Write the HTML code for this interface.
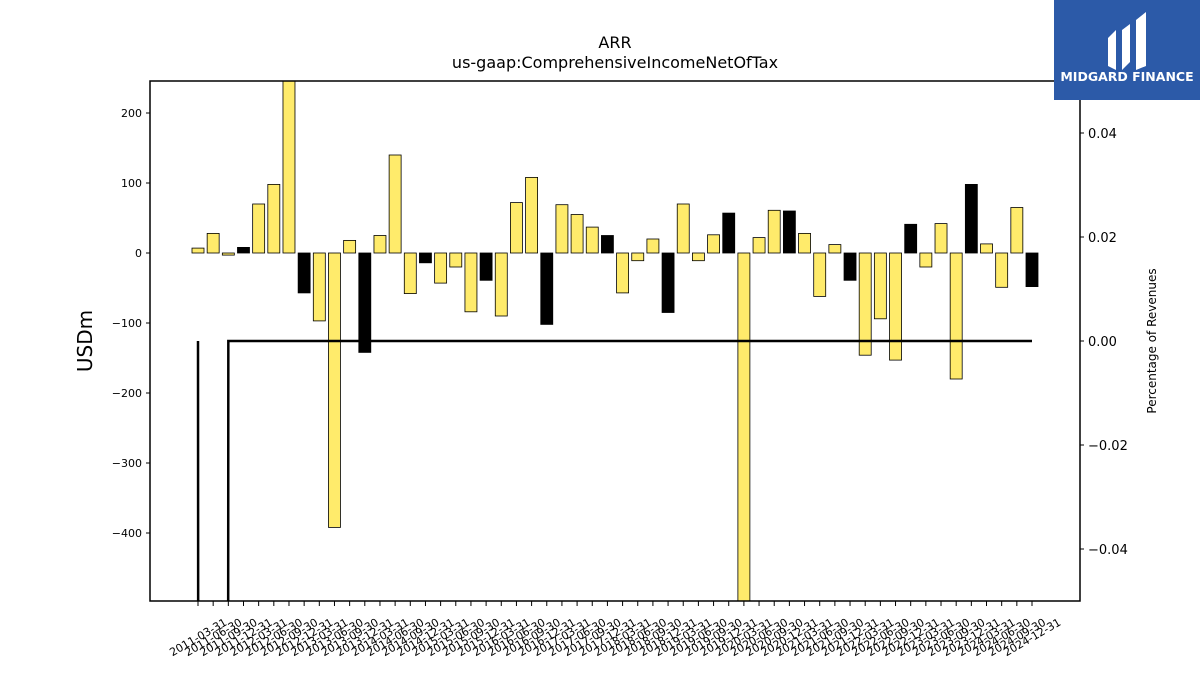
<!DOCTYPE html>
<html><head><meta charset="utf-8"><style>
body{margin:0;background:#fff;overflow:hidden;}
svg{display:block;font-family:"DejaVu Sans","Liberation Sans",sans-serif;}
</style></head><body>
<svg id="chart" width="1200" height="675" xmlns="http://www.w3.org/2000/svg">
<rect width="1200" height="675" fill="#fff"/>
<text x="615" y="48" text-anchor="middle" font-size="16">ARR</text>
<text x="615" y="68" text-anchor="middle" font-size="16">us-gaap:ComprehensiveIncomeNetOfTax</text>
<text transform="translate(92,341) rotate(-90)" text-anchor="middle" font-size="20">USDm</text>
<text transform="translate(1156,341) rotate(-90)" text-anchor="middle" font-size="12">Percentage of Revenues</text>
<g id="bars"></g>
<g id="line"></g>
<g id="axes"></g>
<g>
<rect x="1054" y="0" width="146" height="100" fill="#2c5aa8"/>
<path d="M1108 38 L1116 30 L1116 70 L1108 66 Z M1122 30 L1130 24 L1130 62 L1122 70 Z M1136 20 L1146 12 L1146 66 L1136 70 Z" fill="#fff"/>
<text x="1127" y="81" text-anchor="middle" font-size="12.5" font-weight="bold" fill="#fff">MIDGARD FINANCE</text>
</g>
</svg>
<script>
const labels=[];
for(let y=2011;y<=2024;y++){for(const q of ["03-31","06-30","09-30","12-31"])labels.push(y+"-"+q);}
const values=[7,28,-3,8,70,98,260,-57,-97,-392,18,-142,25,140,-58,-14,-43,-20,-84,-39,-90,72,108,-102,69,55,37,25,-57,-11,20,-85,70,-11,26,57,-520,22,61,60,28,-62,12,-39,-146,-94,-153,41,-20,42,-180,98,13,-49,65,-48];
const pct=[0,-5,0,0,0,0,0,0,0,0,0,0,0,0,0,0,0,0,0,0,0,0,0,0,0,0,0,0,0,0,0,0,0,0,0,0,0,0,0,0,0,0,0,0,0,0,0,0,0,0,0,0,0,0,0,0];
const leftTicks=[200,100,0,-100,-200,-300,-400];
const rightTicks=[0.04,0.02,0,-0.02,-0.04];
const L=150,R=1080,T=81,B=601;
const yL=v=>253-v*0.7;
const yR=v=>341-v*5200;
const xS=i=>198+i*(1032-198)/(labels.length-1);
const NS="http://www.w3.org/2000/svg";
function mk(t,a,p){const e=document.createElementNS(NS,t);for(const k in a)e.setAttribute(k,a[k]);p.appendChild(e);return e;}
const svg=document.getElementById('chart');
const defs=mk('defs',{},svg);
const cp=mk('clipPath',{id:'clip'},defs);mk('rect',{x:L,y:T,width:R-L,height:B-T},cp);
const bars=document.getElementById('bars');bars.setAttribute('clip-path','url(#clip)');
values.forEach((v,i)=>{
 const y0=yL(0),y1=yL(v);
 const r=mk('rect',{x:xS(i)-6,y:Math.min(y0,y1),width:12,height:Math.abs(y1-y0),fill:(i%4==3)?'#000':'#ffeb6b',stroke:'#000','stroke-width':0.8},bars);
 
 
});
const line=document.getElementById('line');line.setAttribute('clip-path','url(#clip)');
const pl=mk('polyline',{points:pct.map((v,i)=>xS(i)+','+yR(v)).join(' '),fill:'none',stroke:'#000','stroke-width':2.5},line);


const ax=document.getElementById('axes');
mk('rect',{x:L,y:T,width:R-L,height:B-T,fill:'none',stroke:'#000','stroke-width':1.5},ax);
leftTicks.forEach(v=>{const y=yL(v);mk('line',{x1:L-4,x2:L,y1:y,y2:y,stroke:'#000'},ax);
 const t=mk('text',{x:L-8,y:y+4,'text-anchor':'end','font-size':11},ax);t.textContent=String(v).replace('-','\u2212');
 
 });
rightTicks.forEach(v=>{const y=yR(v);mk('line',{x1:R,x2:R+4,y1:y,y2:y,stroke:'#000'},ax);
 const t=mk('text',{x:R+8,y:y+5,'font-size':13},ax);t.textContent=(v<0?'\u2212':'')+Math.abs(v).toFixed(2);
 
 });
labels.forEach((s,i)=>{const x=xS(i);mk('line',{x1:x,x2:x,y1:B,y2:B+5,stroke:'#000'},ax);
 const t=mk('text',{transform:`translate(${x},${B+36}) rotate(-30)`,'text-anchor':'middle','font-size':11,dy:4},ax);t.textContent=s;
 
 });
</script>
</body></html>
